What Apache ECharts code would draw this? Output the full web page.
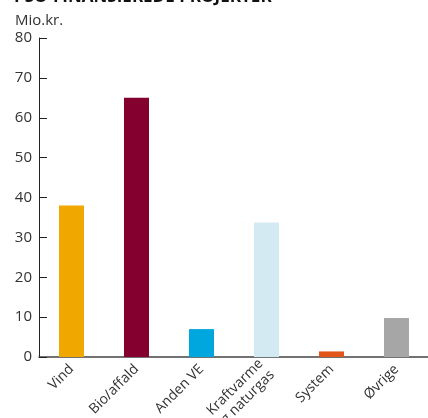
<!DOCTYPE html>
<html>
<head>
<meta charset="utf-8">
<script src="https://cdn.jsdelivr.net/npm/echarts@6/dist/echarts.min.js"></script>
<style>
  html, body { margin: 0; padding: 0; background: #fff; }
  #chart { width: 428px; height: 418px; }
</style>
</head>
<body>
<div id="chart"></div>
<script>
// Projects funded through PSO, amounts in million DKK
const categories = ['Vind', 'Bio/affald', 'Anden VE', 'Kraftvarme\nog naturgas', 'System', 'Øvrige'];
const amounts = [38, 65, 7, 33.7, 1.4, 9.8];
const barColors = ['#F0A800', '#84002E', '#00A6DE', '#D4EAF2', '#E2561A', '#A6A6A6'];
const yTicks = { min: 0, max: 80, interval: 10 };

const chart = echarts.init(document.getElementById('chart'), null, { renderer: 'canvas' });
const font = '"Open Sans", "DejaVu Sans", sans-serif';

chart.setOption({
  animation: false,
  backgroundColor: '#fff',
  graphic: [
    {
      type: 'text', left: 14, top: -11,
      style: { text: 'PSO-FINANSIEREDE PROJEKTER', font: 'bold 17px ' + font, fill: '#111' }
    },
    {
      type: 'text', left: 15, top: 13,
      style: { text: 'Mio.kr.', font: '15px ' + font, fill: '#333' }
    }
  ],
  grid: { left: 39, top: 38, width: 390, height: 319, containLabel: false, outerBoundsMode: 'none' },
  xAxis: {
    type: 'category',
    data: categories,
    axisLine: { lineStyle: { color: '#444', width: 1.5 } },
    axisTick: { show: false },
    axisLabel: {
      rotate: 45, interval: 0, margin: 10,
      color: '#333', fontFamily: font, fontSize: 14, lineHeight: 16
    }
  },
  yAxis: {
    type: 'value',
    min: yTicks.min, max: yTicks.max, interval: yTicks.interval,
    axisLine: { show: true, lineStyle: { color: '#222', width: 1 } },
    axisTick: { show: true, inside: true, length: 8, lineStyle: { color: '#222' } },
    splitLine: { show: false },
    axisLabel: { color: '#333', fontFamily: font, fontSize: 15, margin: 7 }
  },
  series: [{
    type: 'bar',
    data: amounts.map((v, i) => ({ value: v, itemStyle: { color: barColors[i] } })),
    barWidth: 25
  }]
});
</script>
</body>
</html>
